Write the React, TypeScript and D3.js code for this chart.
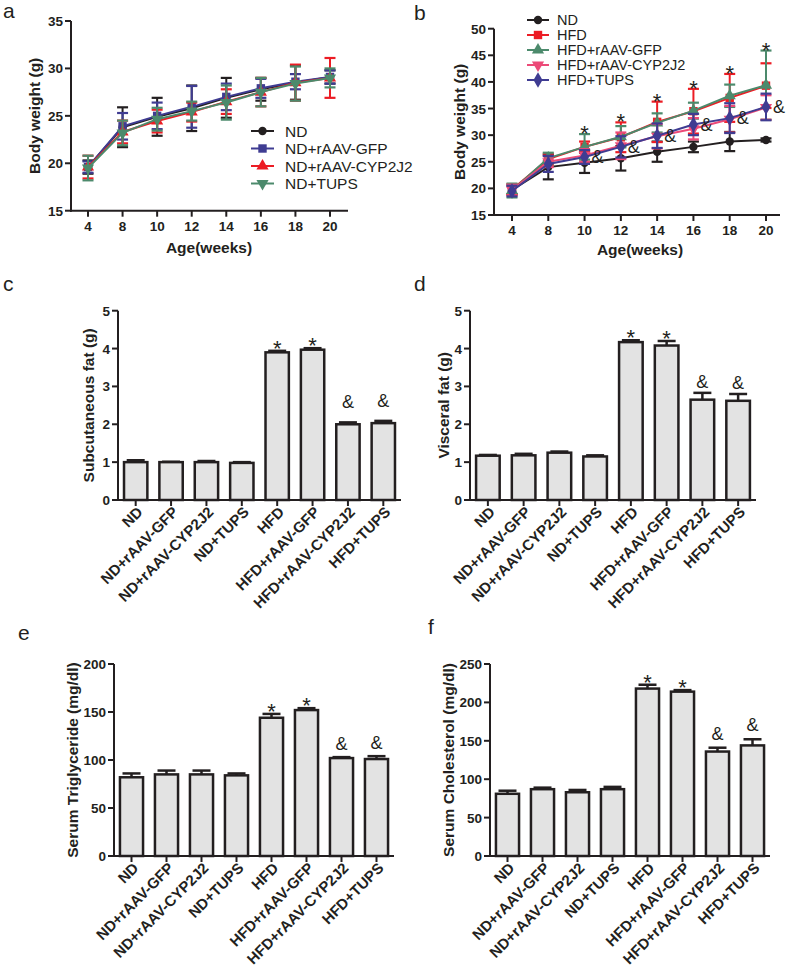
import React from "react";
import * as d3 from "d3";

// ---------- DATA ----------
const weeks = ["4", "8", "10", "12", "14", "16", "18", "20"];

const aSeriesNames = ["ND", "ND+rAAV-GFP", "ND+rAAV-CYP2J2", "ND+TUPS"];
const aND = [19.6, 23.8, 24.9, 25.8, 26.9, 27.8, 28.5, 29.1];
const aNDErr = [0.7, 2.1, 2.0, 2.4, 2.1, 1.2, 1.8, 0.7];
const aGFP = [19.6, 23.9, 25.0, 25.95, 27.0, 27.9, 28.6, 29.1];
const aGFPErr = [0.6, 1.4, 1.4, 2.2, 1.4, 1.0, 0.8, 0.7];
const aCYP = [19.6, 23.3, 24.45, 25.4, 26.5, 27.5, 28.5, 29.0];
const aCYPErr = [1.2, 1.2, 1.2, 1.0, 1.3, 1.5, 1.9, 2.1];
const aTUPS = [19.5, 23.2, 24.65, 25.5, 26.4, 27.5, 28.4, 29.0];
const aTUPSErr = [1.3, 1.3, 1.2, 1.0, 1.8, 1.5, 1.8, 1.0];

const bSeriesNames = ["ND", "HFD", "HFD+rAAV-GFP", "HFD+rAAV-CYP2J2", "HFD+TUPS"];
const bND = [19.7, 24.0, 24.8, 25.65, 26.9, 27.8, 28.8, 29.1];
const bNDErr = [0.8, 2.3, 1.9, 2.3, 1.9, 1.0, 1.8, 0.3];
const bHFD = [19.8, 25.5, 27.8, 29.6, 32.5, 34.5, 37.0, 39.3];
const bHFDErr = [1.0, 1.0, 1.0, 2.8, 3.8, 4.2, 4.5, 4.2];
const bGFP = [19.6, 25.7, 27.8, 29.7, 32.3, 34.6, 37.4, 39.4];
const bGFPErr = [1.3, 1.0, 2.4, 2.0, 1.8, 1.5, 2.1, 6.5];
const bCYP = [19.7, 25.0, 26.2, 28.0, 29.8, 31.2, 33.0, 35.2];
const bCYPErr = [1.0, 1.0, 1.2, 2.5, 2.3, 2.0, 2.5, 2.3];
const bTUPS = [19.5, 24.6, 25.9, 27.8, 29.9, 32.0, 33.2, 35.3];
const bTUPSErr = [1.0, 1.5, 1.3, 2.0, 2.3, 2.0, 2.8, 2.5];
const bStars = ["", "", "*", "*", "*", "*", "*", "*"];
const bAmps = ["", "", "&", "&", "&", "&", "&", "&"];

const groups = [
  "ND",
  "ND+rAAV-GFP",
  "ND+rAAV-CYP2J2",
  "ND+TUPS",
  "HFD",
  "HFD+rAAV-GFP",
  "HFD+rAAV-CYP2J2",
  "HFD+TUPS",
];
const barMarks = ["", "", "", "", "*", "*", "&", "&"];

const subFat = [1.0, 1.0, 1.0, 0.98, 3.9, 3.97, 2.0, 2.03];
const subFatErr = [0.05, 0.01, 0.03, 0.02, 0.04, 0.04, 0.05, 0.06];
const visFat = [1.17, 1.18, 1.25, 1.15, 4.17, 4.08, 2.65, 2.62];
const visFatErr = [0.02, 0.04, 0.03, 0.03, 0.05, 0.12, 0.18, 0.18];
const trig = [82, 85, 85, 84, 144, 152, 102, 101];
const trigErr = [4, 4, 4, 2, 4, 2, 1, 3];
const chol = [81, 87, 83, 87, 218, 214, 136, 144];
const cholErr = [4, 2, 3, 3, 5, 2, 5, 8];

const bodyTicksA = [15, 20, 25, 30, 35];
const bodyTicksB = [15, 20, 25, 30, 35, 40, 45, 50];
const fatTicks = [0, 1, 2, 3, 4, 5];
const trigTicks = [0, 50, 100, 150, 200];
const cholTicks = [0, 50, 100, 150, 200, 250];

// ---------- STYLE ----------
const FONT = "'Liberation Sans', Arial, Helvetica, sans-serif";
const INK = "#231f20";
const C_BLACK = "#231f20";
const C_BLUE = "#3f3c92";
const C_RED = "#ec1c24";
const C_GREEN = "#4c8a6c";
const C_PINK = "#ec4a78";
const BAR_FILL = "#e3e3e3";

type Shape = "circle" | "square" | "triUp" | "triDown" | "diamond";

function Marker({ x, y, shape, color, s = 4.2 }: { x: number; y: number; shape: Shape; color: string; s?: number }) {
  if (shape === "circle") return <circle cx={x} cy={y} r={s} fill={color} />;
  if (shape === "square") return <rect x={x - s} y={y - s} width={2 * s} height={2 * s} fill={color} />;
  const sym =
    shape === "diamond" ? d3.symbol(d3.symbolDiamond, 70) : d3.symbol(d3.symbolTriangle, 64);
  const rot = shape === "triDown" ? 180 : 0;
  return <path d={sym() || ""} transform={`translate(${x},${y}) rotate(${rot})`} fill={color} />;
}

type Series = { name: string; values: number[]; errs: number[]; color: string; shape: Shape };

function LinePanel(props: {
  series: Series[];
  drawOrder: number[];
  yTicks: number[];
  yDomain: [number, number];
  yRange: [number, number];
  xRange: [number, number];
  axisX: number;
  axisEnd: number;
  yTitleX: number;
  xTitleX: number;
  xTitleY: number;
  legend: { lx0: number; lx1: number; tx: number; ys: number[]; fs: number };
  stars?: string[];
  amps?: string[];
  ampSeries?: number;
}) {
  const { series, yTicks, yDomain, yRange, xRange, axisX, axisEnd } = props;
  const y = d3.scaleLinear().domain(yDomain).range(yRange);
  const x = d3.scalePoint<string>().domain(weeks).range(xRange);
  const y0 = yRange[0];
  const line = d3
    .line<number>()
    .x((_, i) => x(weeks[i]) as number)
    .y((v) => y(v));
  const cap = 5.5;
  return (
    <g>
      <line x1={axisX} x2={axisX} y1={yRange[1]} y2={y0 + 1} stroke={INK} strokeWidth={2} />
      <line x1={axisX - 1} x2={axisEnd} y1={y0} y2={y0} stroke={INK} strokeWidth={2} />
      {yTicks.map((t) => (
        <g key={t}>
          <line x1={axisX - 6} x2={axisX} y1={y(t)} y2={y(t)} stroke={INK} strokeWidth={2} />
          <text x={axisX - 8} y={y(t) + 5} textAnchor="end" fontSize={13.5} fontWeight="bold" fontFamily={FONT} fill={INK}>
            {t}
          </text>
        </g>
      ))}
      {weeks.map((w) => (
        <g key={w}>
          <line x1={x(w)} x2={x(w)} y1={y0} y2={y0 + 6} stroke={INK} strokeWidth={2} />
          <text x={x(w)} y={y0 + 20} textAnchor="middle" fontSize={13.5} fontWeight="bold" fontFamily={FONT} fill={INK}>
            {w}
          </text>
        </g>
      ))}
      <text
        transform={`translate(${props.yTitleX},${(yRange[0] + yRange[1]) / 2}) rotate(-90)`}
        textAnchor="middle"
        fontSize={15.5}
        fontWeight="bold"
        fontFamily={FONT}
        fill={INK}
      >
        Body weight (g)
      </text>
      <text x={props.xTitleX} y={props.xTitleY} textAnchor="middle" fontSize={15.5} fontWeight="bold" fontFamily={FONT} fill={INK}>
        Age(weeks)
      </text>
      {props.drawOrder.map((si) => {
        const s = series[si];
        return (
          <g key={s.name}>
            {s.values.map((v, i) => {
              const cx = x(weeks[i]) as number;
              const e = s.errs[i];
              return (
                <g key={i}>
                  <line x1={cx} x2={cx} y1={y(v - e)} y2={y(v + e)} stroke={s.color} strokeWidth={2} />
                  <line x1={cx - cap} x2={cx + cap} y1={y(v + e)} y2={y(v + e)} stroke={s.color} strokeWidth={2.2} />
                  <line x1={cx - cap} x2={cx + cap} y1={y(v - e)} y2={y(v - e)} stroke={s.color} strokeWidth={2.2} />
                </g>
              );
            })}
            <path d={line(s.values) || ""} fill="none" stroke={s.color} strokeWidth={2} />
            {s.values.map((v, i) => (
              <Marker key={i} x={x(weeks[i]) as number} y={y(v)} shape={s.shape} color={s.color} />
            ))}
          </g>
        );
      })}
      {props.stars &&
        props.stars.map((st, i) => {
          if (!st) return null;
          const top = d3.max(series, (s) => s.values[i] + s.errs[i]) as number;
          return (
            <text key={"s" + i} x={x(weeks[i])} y={y(top) + 7} textAnchor="middle" fontSize={22} fontFamily={FONT} fill={INK}>
              {st}
            </text>
          );
        })}
      {props.amps &&
        props.amps.map((a, i) => {
          if (!a) return null;
          const s = series[props.ampSeries as number];
          return (
            <text key={"a" + i} x={(x(weeks[i]) as number) + 7} y={y(s.values[i]) + 6} fontSize={18} fontFamily={FONT} fill={INK}>
              {a}
            </text>
          );
        })}
      {series.map((s, i) => {
        const ly = props.legend.ys[i];
        const { lx0, lx1, tx, fs } = props.legend;
        return (
          <g key={"l" + i}>
            <line x1={lx0} x2={lx1} y1={ly} y2={ly} stroke={s.color} strokeWidth={2} />
            <Marker x={(lx0 + lx1) / 2} y={ly} shape={s.shape} color={s.color} />
            <text x={tx} y={ly + fs * 0.36} fontSize={fs} fontFamily={FONT} fill={INK}>
              {s.name}
            </text>
          </g>
        );
      })}
    </g>
  );
}

function BarPanel(props: {
  values: number[];
  errs: number[];
  ticks: number[];
  yMax: number;
  yRange: [number, number];
  xRange: [number, number];
  title: string;
  titleX: number;
  ampOffset: number;
}) {
  const { values, errs, ticks, yMax, yRange, xRange } = props;
  const y = d3.scaleLinear().domain([0, yMax]).range(yRange);
  const x = d3.scaleBand<string>().domain(groups).range(xRange).paddingInner(0.34).paddingOuter(0.17);
  const y0 = yRange[0];
  const axisX = xRange[0];
  const bw = x.bandwidth();
  return (
    <g>
      {groups.map((g, i) => {
        const bx = x(g) as number;
        const cx = bx + bw / 2;
        const top = y(values[i]);
        const et = y(values[i] + errs[i]);
        return (
          <g key={g}>
            <rect x={bx} y={top} width={bw} height={y0 - top} fill={BAR_FILL} stroke={INK} strokeWidth={2.5} />
            <line x1={cx} x2={cx} y1={top} y2={et} stroke={INK} strokeWidth={2.5} />
            <line x1={cx - 9} x2={cx + 9} y1={et} y2={et} stroke={INK} strokeWidth={2.5} />
            {barMarks[i] === "*" && (
              <text x={cx} y={et + 5} textAnchor="middle" fontSize={22} fontFamily={FONT} fill={INK}>
                *
              </text>
            )}
            {barMarks[i] === "&" && (
              <text x={cx} y={et - props.ampOffset} textAnchor="middle" fontSize={18} fontFamily={FONT} fill={INK}>
                &amp;
              </text>
            )}
            <line x1={cx} x2={cx} y1={y0} y2={y0 + 6} stroke={INK} strokeWidth={2} />
            <text
              transform={`translate(${cx + 8},${y0 + 13}) rotate(-45)`}
              textAnchor="end"
              fontSize={15}
              fontWeight="bold"
              fontFamily={FONT}
              fill={INK}
            >
              {g}
            </text>
          </g>
        );
      })}
      <line x1={axisX} x2={axisX} y1={yRange[1]} y2={y0 + 1} stroke={INK} strokeWidth={2} />
      <line x1={axisX - 1} x2={xRange[1]} y1={y0} y2={y0} stroke={INK} strokeWidth={2} />
      {ticks.map((t) => (
        <g key={t}>
          <line x1={axisX - 6} x2={axisX} y1={y(t)} y2={y(t)} stroke={INK} strokeWidth={2} />
          <text x={axisX - 8} y={y(t) + 5} textAnchor="end" fontSize={13.5} fontWeight="bold" fontFamily={FONT} fill={INK}>
            {t}
          </text>
        </g>
      ))}
      <text
        transform={`translate(${props.titleX},${(yRange[0] + yRange[1]) / 2}) rotate(-90)`}
        textAnchor="middle"
        fontSize={15.5}
        fontWeight="bold"
        fontFamily={FONT}
        fill={INK}
      >
        {props.title}
      </text>
    </g>
  );
}

function PanelLetter({ x, y, t }: { x: number; y: number; t: string }) {
  return (
    <text x={x} y={y} fontSize={21} fontFamily={FONT} fill={INK}>
      {t}
    </text>
  );
}

export default function App() {
  const aSeries: Series[] = [
    { name: aSeriesNames[0], values: aND, errs: aNDErr, color: C_BLACK, shape: "circle" },
    { name: aSeriesNames[1], values: aGFP, errs: aGFPErr, color: C_BLUE, shape: "square" },
    { name: aSeriesNames[2], values: aCYP, errs: aCYPErr, color: C_RED, shape: "triUp" },
    { name: aSeriesNames[3], values: aTUPS, errs: aTUPSErr, color: C_GREEN, shape: "triDown" },
  ];
  const bSeries: Series[] = [
    { name: bSeriesNames[0], values: bND, errs: bNDErr, color: C_BLACK, shape: "circle" },
    { name: bSeriesNames[1], values: bHFD, errs: bHFDErr, color: C_RED, shape: "square" },
    { name: bSeriesNames[2], values: bGFP, errs: bGFPErr, color: C_GREEN, shape: "triUp" },
    { name: bSeriesNames[3], values: bCYP, errs: bCYPErr, color: C_PINK, shape: "triDown" },
    { name: bSeriesNames[4], values: bTUPS, errs: bTUPSErr, color: C_BLUE, shape: "diamond" },
  ];
  return (
    <svg
      width={787}
      height={972}
      viewBox="0 0 787 972"
      style={{ position: "absolute", left: 0, top: 0, background: "#fff" }}
    >
      <rect width={787} height={972} fill="#fff" />
      <PanelLetter x={3} y={18} t="a" />
      <PanelLetter x={414} y={20} t="b" />
      <PanelLetter x={3} y={291} t="c" />
      <PanelLetter x={414} y={291} t="d" />
      <PanelLetter x={18} y={640} t="e" />
      <PanelLetter x={428} y={634} t="f" />

      <LinePanel
        series={aSeries}
        drawOrder={[0, 1, 2, 3]}
        yTicks={bodyTicksA}
        yDomain={[15, 35]}
        yRange={[210.7, 21]}
        xRange={[88, 330]}
        axisX={71}
        axisEnd={348}
        yTitleX={40}
        xTitleX={209}
        xTitleY={253}
        legend={{ lx0: 251, lx1: 274, tx: 285, ys: [131, 148.5, 166, 183.5], fs: 15.5 }}
      />
      <LinePanel
        series={bSeries}
        drawOrder={[0, 1, 2, 3, 4]}
        yTicks={bodyTicksB}
        yDomain={[15, 50]}
        yRange={[215, 28.7]}
        xRange={[512, 766]}
        axisX={494}
        axisEnd={780}
        yTitleX={465}
        xTitleX={640}
        xTitleY={255}
        legend={{ lx0: 527, lx1: 549, tx: 557, ys: [20, 35, 50, 65, 80], fs: 14.5 }}
        stars={bStars}
        amps={bAmps}
        ampSeries={4}
      />

      <BarPanel
        values={subFat}
        errs={subFatErr}
        ticks={fatTicks}
        yMax={5}
        yRange={[500, 310.7]}
        xRange={[118, 401]}
        title="Subcutaneous fat (g)"
        titleX={94}
        ampOffset={14}
      />
      <BarPanel
        values={visFat}
        errs={visFatErr}
        ticks={fatTicks}
        yMax={5}
        yRange={[500, 310.7]}
        xRange={[470, 756]}
        title="Visceral fat (g)"
        titleX={449}
        ampOffset={5}
      />
      <BarPanel
        values={trig}
        errs={trigErr}
        ticks={trigTicks}
        yMax={200}
        yRange={[856, 664]}
        xRange={[114, 394]}
        title="Serum Triglyceride (mg/dl)"
        titleX={78}
        ampOffset={7}
      />
      <BarPanel
        values={chol}
        errs={cholErr}
        ticks={cholTicks}
        yMax={250}
        yRange={[856, 664]}
        xRange={[490, 770]}
        title="Serum Cholesterol (mg/dl)"
        titleX={454}
        ampOffset={8}
      />
    </svg>
  );
}
